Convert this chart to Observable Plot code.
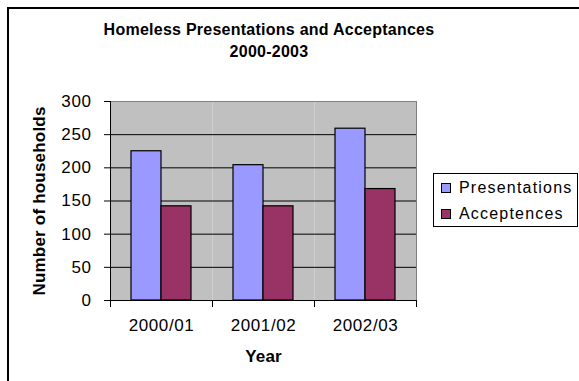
<!DOCTYPE html>
<html>
<head>
<meta charset="utf-8">
<script src="https://cdn.jsdelivr.net/npm/d3@7"></script>
<script src="https://cdn.jsdelivr.net/npm/@observablehq/plot@0.6"></script>
<style>
  html, body { margin: 0; padding: 0; background: #fff; overflow: hidden; }
  body { width: 579px; height: 381px; position: relative; font-family: "Liberation Sans", Arial, sans-serif; }
  #border { position: absolute; left: 7px; top: 7px; width: 640px; height: 440px; border: 2px solid #000; box-sizing: border-box; }
  #title { position: relative; height: 70px; box-sizing: border-box; padding-top: 19px; width: 538px; text-align: center;
           font-weight: bold; font-size: 16px; line-height: 22px; letter-spacing: 0.25px; color: #000; }
  #chart { position: relative; }
  #chart svg text { letter-spacing: 0.6px; }
  #chart g[aria-label="y-axis label"] text, #chart g[aria-label="fx-axis label"] text { font-weight: bold; letter-spacing: 0.2px; font-size: 17px; }
  #legend { position: absolute; left: 433px; top: 173px; width: 145px; height: 54px; border: 1px solid #000; box-sizing: border-box; background: #fff; }
  .item { position: absolute; left: 7px; font-size: 16px; letter-spacing: 1.2px; line-height: 18px; color: #000; }
  .sw { position: absolute; left: 0; top: 4px; width: 10px; height: 10px; border: 1px solid #000; box-sizing: border-box; }
  .lbl { position: absolute; left: 18px; top: 0; white-space: nowrap; }
</style>
</head>
<body>
<div id="border"></div>
<div id="title">Homeless Presentations and Acceptances<br>2000-2003</div>
<div id="chart"></div>
<div id="legend"></div>
<script>
const years = ["2000/01", "2001/02", "2002/03"];
const seriesNames = ["Presentations", "Acceptences"];
const presentations = [225, 204, 259];
const acceptences = [142, 142, 168];
const seriesColors = ["#9999ff", "#993366"];
const yTicks = [0, 50, 100, 150, 200, 250, 300];
const gridTicks = [50, 100, 150, 200, 250];

const data = [];
years.forEach((y, i) => {
  data.push({year: y, series: seriesNames[0], value: presentations[i]});
  data.push({year: y, series: seriesNames[1], value: acceptences[i]});
});

const plotH = 199;
const chart = Plot.plot({
  width: 579,
  height: 311,
  marginTop: 31,
  marginBottom: 81,
  marginLeft: 110,
  marginRight: 163,
  style: {fontFamily: "'Liberation Sans', Arial, sans-serif", fontSize: "17px", color: "#000", background: "transparent"},
  fx: {domain: years, padding: 0},
  x: {domain: seriesNames, paddingInner: 0, paddingOuter: 0.672, axis: null},
  y: {domain: [0, 300]},
  color: {domain: seriesNames, range: seriesColors},
  marks: [
    Plot.frame({fill: "#c0c0c0", stroke: "none"}),
    Plot.ruleY(gridTicks, {stroke: "#000", strokeWidth: 1}),
    Plot.ruleY([300], {stroke: "#808080", strokeWidth: 1}),
    Plot.frame({anchor: "right", stroke: "#808080", facetAnchor: "right"}),
    Plot.barY(data, {fx: "year", x: "series", y: "value", fill: "series", stroke: "#000", strokeWidth: 1.2}),
    Plot.ruleY([0], {stroke: "#000", strokeWidth: 1}),
    Plot.frame({anchor: "left", stroke: "#000", facetAnchor: "left"}),
    Plot.frame({anchor: "left", stroke: "#000", insetTop: plotH, insetBottom: -6}),
    Plot.frame({anchor: "right", stroke: "#000", insetTop: plotH, insetBottom: -6, facetAnchor: "right"}),
    Plot.axisY({ticks: yTicks, tickSize: 6, tickPadding: 13, fontSize: 17,
      label: "Number of households", labelAnchor: "center", labelOffset: 78, labelArrow: "none"}),
    Plot.axisFx({anchor: "bottom", tickSize: 0, tickPadding: 18, fontSize: 17,
      label: "Year", labelAnchor: "center", labelOffset: 61})
  ]
});
document.getElementById("chart").appendChild(chart);

const legend = document.getElementById("legend");
seriesNames.forEach((name, i) => {
  const item = document.createElement("div");
  item.className = "item";
  item.style.top = (i === 0 ? 5 : 31) + "px";
  const sw = document.createElement("div");
  sw.className = "sw";
  sw.style.background = seriesColors[i];
  const lbl = document.createElement("div");
  lbl.className = "lbl";
  lbl.textContent = name;
  item.appendChild(sw);
  item.appendChild(lbl);
  legend.appendChild(item);
});
</script>
</body>
</html>
